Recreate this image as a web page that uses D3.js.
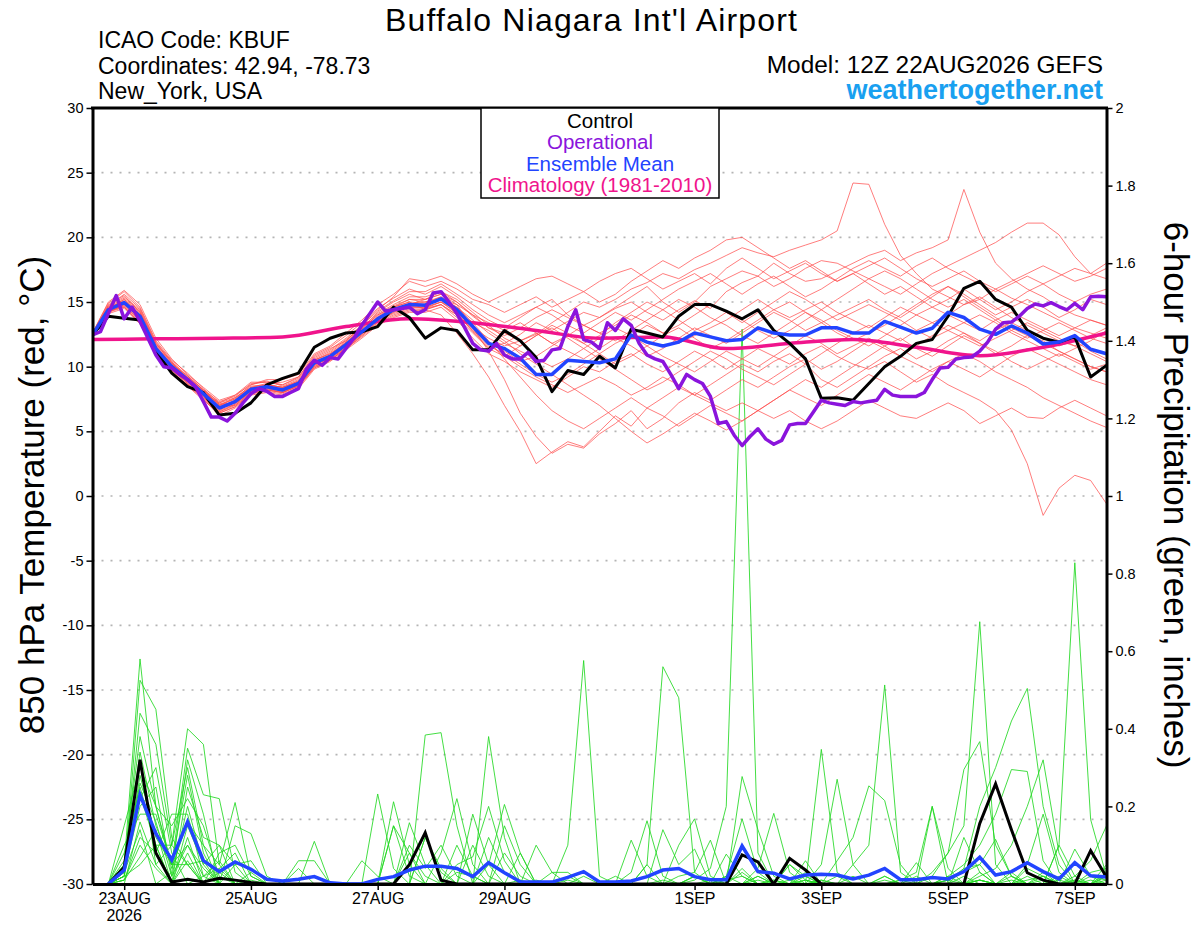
<!DOCTYPE html>
<html><head><meta charset="utf-8">
<script src="https://cdnjs.cloudflare.com/ajax/libs/d3/7.8.5/d3.min.js"></script>
<style>body{margin:0;background:#fff}svg{display:block}text{font-family:"Liberation Sans",Arial,Helvetica,sans-serif}</style>
</head><body><svg id="c" width="1200" height="927"></svg>
<script>
// ---------------- DATA ----------------
// forecast hours from 12Z 22AUG2026; temperature every 6 h (65 pts), operational every 3 h (129 pts)
const tempStepHours = 6, operStepHours = 3, precipStepHours = 6;
const tempTicks = [-30,-25,-20,-15,-10,-5,0,5,10,15,20,25,30];
const precipTicks = [0,0.2,0.4,0.6,0.8,1,1.2,1.4,1.6,1.8,2];
const dateTickHours = [12,60,108,156,228,276,324,372];
const dateTickLabels = ["23AUG","25AUG","27AUG","29AUG","1SEP","3SEP","5SEP","7SEP"];
const yearLabel = "2026";

const controlTemp = [12.45,13.9,13.75,13.6,11.2,9.5,8.45,8.0,6.26,6.4,7.2,8.6,9.1,9.5,11.5,12.2,12.6,
 12.7,13.1,14.6,13.8,12.2,13.0,12.8,11.3,11.3,12.8,12.0,10.7,8.07,9.7,9.4,10.8,
 9.9,12.9,12.6,12.3,13.9,14.8,14.8,14.3,13.7,14.4,12.8,11.8,10.6,7.55,7.6,7.4,
 8.7,10.0,10.8,11.8,12.1,13.9,16.06,16.6,15.2,14.6,12.8,12.2,11.9,12.3,9.2,10.1];

const meanTemp = [12.45,14.4,14.95,13.9,11.4,10.0,9.0,7.9,6.8,7.3,8.25,8.45,8.2,8.7,10.3,10.8,11.7,
 12.7,13.7,14.4,14.8,14.75,15.25,14.4,13.1,11.8,11.4,10.65,9.4,9.4,10.5,10.4,10.3,
 10.6,12.45,11.9,11.6,11.9,12.6,12.3,12.0,12.1,13.0,12.6,12.45,12.45,13.0,13.0,12.6,
 12.6,13.5,13.05,12.6,12.97,14.2,13.8,12.9,12.5,13.15,12.6,11.75,11.9,12.4,11.35,11.0];

const operationalTemp = [12.45,12.7,14.1,15.5,13.7,14.6,13.5,12.2,10.9,10.0,
 9.9,9.4,9.0,8.45,7.3,6.1,6.1,5.8,6.4,7.2,
 7.9,8.3,8.1,7.7,7.7,8.0,8.3,9.8,10.5,10.1,
 10.7,10.6,11.4,12.2,13.2,14.1,15.0,14.3,14.4,14.5,
 14.6,14.1,14.4,15.7,15.8,15.0,14.1,13.0,11.8,11.3,
 11.2,11.8,10.9,10.6,10.6,11.1,10.4,10.5,11.3,11.4,
 13.1,14.4,12.1,11.9,11.4,13.4,12.8,13.7,13.2,11.8,
 10.9,10.6,10.4,9.4,8.3,9.4,9.0,8.7,7.7,5.6,
 5.75,4.7,3.9,4.6,5.2,4.4,4.0,4.3,5.5,5.6,
 5.6,6.5,7.4,7.2,7.1,7.0,7.3,7.2,7.3,7.4,
 8.25,7.8,7.7,7.7,7.7,8.0,9.0,9.9,9.95,10.6,
 10.7,10.75,11.2,11.9,12.9,13.4,13.45,13.9,14.5,14.85,
 14.7,14.95,14.65,14.4,14.9,14.4,15.4,15.45,15.4];

const climHours = [0,24,48,72,96,120,144,168,192,216,240,264,288,312,336,360,384];
const climTemp = [12.1,12.15,12.2,12.3,13.1,13.7,13.4,12.8,12.2,12.3,11.4,11.8,12.1,11.5,10.85,11.5,12.6];

const tempMember01 = [12.5,14.8,15.5,14.2,11.8,10.3,9.2,8.1,7.0,7.5,8.6,8.9,8.5,9.0,10.6,11.2,12.1,
 13.0,14.2,15.0,15.6,15.2,15.8,15.0,13.9,13.0,12.6,12.0,12.5,13.4,14.2,15.0,14.6,
 15.2,16.0,16.5,17.2,16.8,17.5,18.0,18.6,19.2,18.8,18.5,19.0,19.4,19.8,20.5,24.2,
 24.1,21.0,18.6,17.2,16.0,15.4,14.8,15.2,16.0,15.3,14.8,14.2,13.6,13.0,12.6,12.2];
const tempMember02 = [12.4,14.5,15.2,14.0,11.2,9.8,8.7,7.6,6.5,7.0,8.0,8.2,8.0,8.5,10.0,10.5,11.4,
 12.4,13.5,14.2,14.6,14.5,15.0,14.1,12.7,11.5,11.8,12.5,13.4,12.8,13.5,14.2,13.8,
 14.5,15.0,14.2,13.6,14.4,15.1,14.5,15.8,16.5,17.0,18.0,17.2,16.6,16.8,17.4,18.0,
 18.6,19.0,18.2,18.8,19.2,19.8,23.7,20.4,18.0,16.8,16.0,15.4,14.6,14.0,13.6,13.2];
const tempMember03 = [12.6,14.9,15.8,14.6,12.0,10.5,9.5,8.3,7.2,7.8,8.8,8.8,8.6,9.2,10.9,11.5,12.4,
 13.4,14.5,15.3,16.0,15.6,16.2,15.4,14.4,13.6,13.0,13.8,14.6,15.2,14.0,13.2,13.8,
 14.6,15.4,16.2,15.0,14.2,15.0,16.2,16.8,17.4,17.0,16.2,16.8,17.6,18.2,18.0,17.4,
 16.8,16.2,15.6,16.4,17.2,17.8,18.4,19.0,19.6,20.4,21.1,21.1,20.2,18.5,17.2,18.0];
const tempMember04 = [12.3,14.2,14.8,13.6,11.0,9.6,8.6,7.5,6.2,6.8,7.8,8.0,7.8,8.3,9.8,10.4,11.3,
 12.2,13.2,13.8,14.2,14.2,14.6,13.6,12.2,11.0,10.4,9.6,9.0,8.4,9.2,10.0,9.6,
 10.4,11.0,10.2,9.6,10.4,11.2,10.6,9.8,10.6,11.4,10.8,10.2,11.0,11.6,10.8,10.2,
 9.8,10.4,9.6,8.8,9.4,8.6,8.0,7.4,6.6,5.1,2.5,-1.5,0.6,1.6,1.2,-0.6];
const tempMember05 = [12.5,14.6,15.0,13.8,11.6,10.2,9.3,8.2,7.1,7.2,8.0,8.6,8.4,8.8,10.4,10.9,11.9,
 12.9,14.0,14.6,15.0,14.4,14.0,12.6,11.0,9.2,7.0,5.0,2.5,3.4,4.2,3.8,5.0,
 6.2,5.4,6.8,7.6,8.4,7.8,8.6,9.4,10.2,9.6,10.4,11.0,10.2,9.0,8.4,9.2,
 10.0,10.8,11.4,10.6,11.2,12.0,12.6,11.8,11.0,11.6,12.4,12.0,11.2,10.6,10.0,9.6];
const tempMember06 = [12.4,14.3,14.6,13.4,11.0,9.7,8.8,7.7,6.6,7.4,8.4,8.2,8.0,8.6,10.2,10.6,11.5,
 12.5,13.6,14.3,14.8,15.2,15.6,14.8,13.0,11.2,9.0,6.4,4.6,3.3,4.0,3.7,4.8,
 5.6,6.6,5.2,6.0,7.2,8.0,7.4,8.2,9.0,8.4,9.2,10.0,10.6,9.8,10.4,11.2,
 12.0,11.4,10.8,11.6,12.4,13.2,12.6,12.0,12.8,13.4,12.8,12.2,11.6,12.0,11.2,10.6];
const tempMember07 = [12.5,14.7,15.4,14.4,11.8,10.4,9.0,8.0,7.2,7.6,8.4,8.7,8.8,9.2,10.8,11.4,12.0,
 13.2,14.4,15.4,16.8,16.6,17.0,16.4,15.6,15.0,15.6,16.2,16.8,17.0,16.4,15.8,16.6,
 17.2,17.6,16.8,16.0,16.6,17.2,16.4,17.6,18.4,17.6,16.8,17.4,18.0,17.2,16.6,17.2,
 16.4,15.6,16.2,15.4,14.6,15.2,16.0,15.2,14.4,15.0,15.8,16.4,17.0,17.6,17.2,16.8];
const tempMember08 = [12.4,14.4,14.7,13.6,11.3,9.9,8.9,7.9,6.9,7.0,8.0,8.3,8.1,8.6,10.1,10.7,11.6,
 12.6,13.6,14.2,14.8,15.0,15.4,14.2,12.8,11.6,11.0,10.2,9.4,8.8,9.4,10.2,11.0,
 11.8,12.4,13.2,12.6,11.8,12.4,13.0,13.6,14.4,15.2,14.4,13.8,14.4,15.0,14.2,13.6,
 13.0,13.8,14.6,14.0,13.4,14.0,14.8,15.4,14.6,13.8,13.2,12.6,12.0,11.6,12.4,13.0];
const tempMember09 = [12.5,14.5,15.1,14.1,11.5,10.1,9.1,8.0,6.9,7.4,8.3,8.5,8.3,8.8,10.5,11.0,11.8,
 12.8,13.8,14.5,14.9,14.8,15.2,14.6,13.4,12.0,10.6,9.2,7.8,6.6,5.8,5.2,6.0,
 6.8,7.6,6.8,6.2,5.4,6.2,7.0,6.4,5.8,6.6,7.4,8.2,7.6,7.0,7.8,8.6,
 9.4,8.8,8.2,9.0,9.8,10.4,9.8,9.2,10.0,10.8,11.4,10.8,10.2,9.6,9.0,8.6];
const tempMember10 = [12.3,14.1,14.5,13.3,11.0,9.5,8.5,7.4,6.4,6.9,7.9,8.1,7.9,8.4,9.9,10.5,11.4,
 12.3,13.3,13.9,14.3,14.4,14.8,14.0,13.0,12.2,11.6,12.0,12.6,11.8,11.2,10.6,11.4,
 12.2,11.6,10.8,11.4,12.2,13.0,12.4,11.8,12.6,13.4,14.2,13.6,12.8,13.4,14.0,14.6,
 15.2,14.4,13.8,14.6,15.4,16.2,15.6,14.8,14.0,14.6,15.2,14.6,13.8,14.4,15.2,14.8];
const tempMember11 = [12.6,15.0,15.9,14.8,12.2,10.6,9.4,8.4,7.4,7.8,8.6,9.0,9.0,9.4,11.0,11.6,12.6,
 13.6,14.8,15.6,16.6,16.2,16.6,16.0,15.2,14.8,14.2,14.8,15.4,14.6,15.2,15.8,15.0,
 15.6,16.6,17.4,18.2,17.6,18.4,19.0,19.8,20.0,19.2,18.4,17.6,18.2,17.4,16.6,17.2,
 17.8,18.4,17.6,16.8,16.2,16.8,17.4,16.6,16.0,16.6,17.2,17.8,17.2,16.6,17.0,17.6];
const tempMember12 = [12.4,14.4,14.9,13.9,11.3,9.9,9.0,7.8,6.7,7.2,8.2,8.4,8.2,8.7,10.2,10.8,11.7,
 12.7,13.8,14.6,15.2,15.0,15.2,14.8,14.0,13.4,12.8,13.4,12.6,11.8,12.4,13.2,12.6,
 13.2,14.0,13.4,12.6,13.2,14.0,14.8,14.2,13.4,14.2,15.0,15.8,15.2,14.4,13.6,14.2,
 14.8,14.2,13.6,12.8,12.2,12.8,13.4,14.0,13.4,12.6,12.0,11.4,10.8,11.4,12.0,12.8];
const tempMember13 = [12.5,14.2,14.8,13.8,11.4,10.0,9.2,8.2,7.0,7.2,8.2,8.6,8.4,8.8,10.4,10.8,11.6,
 12.6,13.7,14.4,14.7,14.6,15.0,14.2,13.4,12.8,12.0,11.0,10.2,9.4,8.6,7.8,7.0,
 6.0,5.0,4.1,4.8,5.6,6.4,5.8,5.1,5.8,6.6,7.4,8.2,9.0,8.4,9.2,10.0,
 10.8,11.6,12.2,11.4,10.8,11.6,12.4,11.8,11.2,10.4,9.8,10.4,11.0,10.4,9.8,10.2];
const tempMember14 = [12.4,14.6,15.3,14.3,11.7,10.3,9.1,8.0,7.0,7.6,8.5,8.6,8.4,8.9,10.5,11.1,12.0,
 13.0,14.1,14.8,15.4,15.4,15.8,15.2,14.2,13.2,12.2,11.6,12.4,13.2,12.6,11.8,12.4,
 13.4,14.2,15.0,14.4,13.6,12.8,13.4,14.2,13.6,12.8,12.2,12.8,13.6,14.4,15.2,16.0,
 16.8,17.4,16.8,16.0,15.2,14.6,15.2,14.4,13.6,12.8,12.2,12.8,13.4,12.8,12.2,11.8];
const tempMember15 = [12.3,14.3,14.9,13.7,11.1,9.7,8.7,7.6,6.5,7.1,8.1,8.3,8.0,8.5,10.0,10.6,11.5,
 12.5,13.5,14.1,14.5,14.6,15.0,14.4,13.2,11.8,10.8,10.0,9.2,8.6,8.0,8.6,9.2,
 8.6,7.8,8.4,9.2,8.6,7.8,7.2,6.6,7.2,6.6,6.0,6.6,5.8,5.2,5.8,6.6,
 7.4,6.8,6.2,6.0,6.6,7.2,6.6,5.6,6.2,6.8,6.1,6.0,6.8,7.4,6.8,6.2];
const tempMember16 = [12.5,14.4,15.0,14.0,11.5,10.1,9.0,7.9,6.8,7.3,8.3,8.5,8.2,8.7,10.3,10.9,11.8,
 12.8,13.9,14.6,15.0,14.9,15.4,14.6,13.6,12.6,11.8,11.2,10.6,10.0,10.6,11.4,12.2,
 13.0,12.4,11.6,10.8,10.2,9.6,10.4,11.2,10.6,10.0,10.8,11.6,12.4,11.8,11.0,11.6,
 12.2,11.6,10.8,10.2,9.6,10.4,11.0,10.4,9.6,9.0,8.4,7.6,7.0,6.4,5.8,5.3];
const tempMember17 = [12.6,14.7,15.6,14.5,11.9,10.4,9.3,8.2,7.3,7.7,8.7,8.8,8.6,9.1,10.7,11.3,12.2,
 13.2,14.3,15.1,15.8,15.8,16.4,15.6,14.8,14.0,13.4,14.0,14.6,14.0,13.2,12.6,13.4,
 14.2,13.6,14.4,15.2,16.0,16.6,17.2,16.4,15.6,16.4,17.0,16.2,15.4,16.0,16.8,17.6,
 18.2,17.6,17.0,17.8,18.4,17.6,17.0,16.4,15.8,16.4,17.0,16.4,15.6,15.0,15.6,16.0];
const tempMember18 = [12.4,14.3,14.7,13.5,11.2,9.8,8.8,7.7,6.6,7.1,8.1,8.4,8.1,8.6,10.1,10.7,11.6,
 12.6,13.6,14.3,14.7,14.5,14.8,13.8,12.6,11.4,10.8,11.6,12.4,13.0,12.2,11.4,10.6,
 9.8,9.0,8.2,8.8,9.6,10.4,11.2,10.6,9.8,9.2,8.6,9.4,10.2,11.0,11.8,12.6,
 13.2,12.6,12.0,12.8,13.4,12.8,12.2,11.6,12.2,12.8,13.4,12.8,12.2,11.6,11.0,10.4];
const tempMember19 = [12.5,14.5,15.2,14.2,11.6,10.2,9.1,8.1,7.1,7.5,8.4,8.6,8.4,8.9,10.5,11.0,11.9,
 12.9,14.0,14.7,15.2,15.2,15.6,15.0,14.0,13.0,12.4,13.0,13.8,14.4,13.8,13.2,12.6,
 12.0,12.8,13.6,14.4,15.2,14.6,13.8,13.2,12.4,11.8,12.6,13.4,14.2,13.6,12.8,12.2,
 11.6,12.4,13.2,14.0,14.6,14.0,13.4,12.8,13.6,14.2,13.6,13.0,12.4,13.0,13.6,13.2];
const tempMember20 = [12.3,14.2,14.6,13.4,10.9,9.5,8.6,7.5,6.4,6.9,7.9,8.2,8.0,8.5,9.9,10.5,11.4,
 12.4,13.4,14.0,14.4,14.4,14.8,14.0,12.8,11.8,11.2,10.4,10.8,11.6,12.4,11.8,11.0,
 10.2,10.8,11.6,12.4,13.0,12.2,11.4,12.0,12.8,13.6,14.4,15.0,14.2,13.4,12.6,12.0,
 12.6,13.2,14.0,14.8,15.6,16.2,15.4,14.6,13.8,13.0,12.4,11.8,11.2,10.6,10.0,9.6];

// 6-hour precipitation (inches), valid 18Z 22AUG onward (64 pts)
const controlPrecip = [0,.043,.32,.08,.005,.012,.005,.015, .01,.004,0,0,0,0,0,0,
 0,0,0,.05,.132,.01,0,0, 0,0,0,0,0,0,0,0, 0,0,0,0,0,0,0,0,
 .075,.057,0,.066,.036,0,0,0, 0,0,0,0,0,0,0,.156, .258,.14,.029,.01,0,0,.086,.018];
const meanPrecip = [0,.036,.23,.13,.062,.16,.06,.032, .057,.038,.012,.008,.012,.019,.003,0,
 0,.012,.019,.036,.046,.046,.04,.019, .055,.029,.006,.005,.005,.017,.032,.005,
 .005,.008,.019,.036,.04,.019,.011,.011, .098,.032,.028,.013,.023,.025,.023,.013,
 .023,.04,.011,.011,.017,.013,.032,.069, .023,.032,.055,.032,.013,.055,.021,.018];

const precipMember01 = [0,.05,.58,.20,.05,.10,.02,0, 0,0,0,0,0,0,0,0, 0,0,0,0,.12,.04,0,0, 0,0,0,0,0,0,.02,0,
 0,.113,.02,0,0,0,0,.01, .02,0,0,0,0,.01,0,0, 0,0,.01,.03,.2,.04,0,.01, 0,0,.02,0,0,.01,0,0];
const precipMember02 = [0,.02,.525,.45,.12,.05,0,0, 0,.01,0,0,0,0,0,0, 0,0,0,.1,.04,.1,.02,0, 0,0,0,.01,0,0,0,0,
 0,.03,.163,.02,0,0,.01,0, 0,.02,0,0,.01,0,0,0, 0,.02,0,0,.03,.08,.295,.367, .1,.02,0,0,.01,0,0,.02];
const precipMember03 = [0,.03,.44,.36,.1,.4,.36,.05, 0,0,0,0,.04,0,0,0, 0,0,0,0,0,0,.03,.02, 0,.15,.05,0,0,0,0,0,
 0,0,.05,0,0,.02,0,0, 0,0,.01,0,0,0,.02,0, 0,0,0,.055,0,0,.02,0, 0,.01,0,0,.02,0,0,0];
const precipMember04 = [0,.04,.34,.15,.05,.35,.23,.22, .03,0,0,0,0,0,0,0, 0,0,0,0,0,0,0,.1, .02,0,0,0,0,0,0,0,
 0,0,.05,.56,.48,.03,0,0, 0,0,0,.01,0,0,0,0, 0,0,0,0,0,.02,0,0, 0,.03,0,0,0,0,.01,0];
const precipMember05 = [0,.02,.23,.1,.1,.3,.1,.05, .21,.02,0,0,0,0,0,0, 0,.232,.04,0,0,0,0,0, 0,0,.01,0,0,0,0,0,
 0,0,0,0,.1,.168,.02,0, 0,.01,0,0,0,0,0,.02, 0,0,0,0,0,0,.12,.03, 0,0,0,.01,0,0,0,.03];
const precipMember06 = [0,.03,.2,.25,.02,.2,.05,0, .15,.13,.02,0,0,.11,0,0, 0,0,0,0,0,0,.1,.02, 0,0,0,0,0,0,0,0,
 0,0,0,.14,.05,.09,0,0, 0,0,0,0,.01,0,0,0, 0,0,0,0,.02,.08,.15,.676, .05,0,0,.02,0,0,0,0];
const precipMember07 = [0,.15,.3,.2,.15,.22,.15,.02, 0,0,0,0,0,0,0,0, 0,0,.212,.05,0,0,0,.18, .05,0,0,0,0,.01,0,0,
 0,0,0,0,.02,.03,.113,0, 0,0,0,0,.03,0,0,0, 0,0,0,0,0,.01,.03,.05, .115,.02,0,0,0,0,0,0];
const precipMember08 = [0,.08,.25,.1,0,.15,.05,.1, 0,0,0,0,.06,.06,0,0, 0,0,0,0,0,0,0,0, .12,.03,0,0,0,0,0,0,
 .02,0,0,0,0,0,0,.077, .02,0,0,0,0,.01,0,0, 0,.01,0,0,0,.02,.05,.1, .18,.295,.29,.06,0,0,.02,0];
const precipMember09 = [0,0,.16,.05,.1,.05,0,.08, .1,.02,0,0,0,0,0,0, 0,0,0,.158,.05,0,0,0, 0,.08,.02,0,0,0,0,0,
 0,0,0,0,0,.01,.04,.2, 1.43,.08,0,0,0,0,0,0, 0,0,.01,0,0,0,0,0, 0,0,.01,.02,0,0,0,0];
const precipMember10 = [0,.02,.28,.12,.05,.28,.08,0, 0,0,0,0,0,0,0,0, 0,0,.15,.08,0,0,0,0, 0,0,0,.1,.03,0,0,0,
 0,0,0,.01,0,0,0,0, .277,.14,.02,0,0,0,0,0, 0,0,0,0,0,.01,.04,.2, .3,.42,.504,.2,.05,0,0,0];
const precipMember11 = [0,.01,.12,.08,.18,.18,.02,.06, 0,0,0,0,0,0,0,0, 0,0,0,0,.384,.39,.15,0, 0,0,0,0,0,.02,0,0,
 0,0,0,0,0,0,0,.02, .168,.03,0,0,.02,0,0,0, 0,0,0,0,0,0,0,.02, .04,.1,.2,.32,.08,0,0,.01];
const precipMember12 = [0,.02,.32,.05,0,.12,0,0, .05,.06,0,0,0,0,0,0, 0,0,0,0,0,0,0,0, 0,0,0,0,0,.1,.576,.02,
 0,0,0,0,0,0,0,0, 0,.04,.182,.03,0,0,0,0, 0,0,0,.02,0,0,0,0, 0,0,.05,.18,.03,0,0,0];
const precipMember13 = [0,.1,.18,.18,.05,.05,.06,0, 0,0,0,0,0,0,0,0, 0,0,0,0,0,.08,.22,.05, 0,0,0,0,0,0,0,0,
 0,0,0,0,0,.02,0,0, 0,0,0,.05,.01,0,0,0, 0,0,0,0,0,.01,0,0, 0,0,0,0,.1,.02,0,0];
const precipMember14 = [0,.01,.07,.14,0,.25,.12,.1, .05,0,0,0,0,0,0,0, 0,0,0,0,0,0,0,0, .38,.12,0,0,0,0,0,0,
 0,0,0,0,0,.02,0,0, 0,0,0,0,.06,0,0,0, 0,0,0,0,0,0,0,.01, 0,.02,0,0,.1,.828,.166,.02];
const precipMember15 = [0,.04,.22,.3,.08,0,.02,.04, 0,0,0,0,0,0,0,0, 0,0,0,0,0,0,.05,.07, .2,.06,0,0,0,0,0,0,
 0,0,0,0,0,0,0,0, 0,.02,0,0,0,.347,.03,0, 0,0,0,0,0,0,0,.01, 0,0,0,0,0,.09,.02,.01];
const precipMember16 = [0,.03,.14,0,.03,.32,.18,0, 0,0,0,0,0,0,0,0, 0,0,0,0,0,0,0,0, .05,.205,.08,0,0,0,0,0,
 0,0,0,0,0,0,0,0, .03,0,0,0,0,.05,.27,.05, 0,0,0,0,0,0,0,0, 0,0,0,.03,0,.02,.06,.15];
const precipMember17 = [0,.01,.1,.04,0,.08,0,.04, .08,0,0,0,0,0,0,0, .06,.02,0,0,0,0,0,0, 0,0,0,0,0,0,0,0,
 0,0,0,0,0,0,0,.02, 0,0,.01,0,0,0,.06,.12, .253,.215,.05,0,0,0,0,.03, 0,0,0,0,0,0,0,0];
const precipMember18 = [0,.05,.26,.16,.02,.1,.04,0, 0,.03,0,0,0,0,0,0, 0,0,.15,.02,0,0,0,0, 0,0,.08,0,0,0,0,0,
 0,0,0,0,0,0,0,0, 0,0,0,0,0,0,0,.05, .1,.513,.03,0,0,0,0,0, 0,0,0,0,0,.01,0,.02];
const precipMember19 = [0,.02,.05,.1,0,.06,0,.03, 0,0,0,0,0,0,0,0, 0,0,0,.08,.02,0,0,0, 0,0,0,0,.03,.03,0,0,
 0,0,0,0,0,0,0,0, .04,0,0,.05,.02,0,0,0, 0,.02,0,0,0,0,.04,.05, 0,0,.04,.02,0,0,0,.05];
const precipMember20 = [0,.06,.38,.2,.04,.16,.1,0, 0,0,0,0,0,0,0,0, 0,0,0,0,.12,.03,0,0, 0,0,0,0,0,0,0,0,
 0,0,0,0,0,0,0,0, 0,0,0,0,0,0,0,0, 0,0,0,0,.2,0,0,.01, 0,0,0,0,0,0,.03,.04];

const tempMembers = [tempMember01,tempMember02,tempMember03,tempMember04,tempMember05,tempMember06,tempMember07,
 tempMember08,tempMember09,tempMember10,tempMember11,tempMember12,tempMember13,tempMember14,tempMember15,
 tempMember16,tempMember17,tempMember18,tempMember19,tempMember20];
const precipMembers = [precipMember01,precipMember02,precipMember03,precipMember04,precipMember05,precipMember06,
 precipMember07,precipMember08,precipMember09,precipMember10,precipMember11,precipMember12,precipMember13,
 precipMember14,precipMember15,precipMember16,precipMember17,precipMember18,precipMember19,precipMember20];

const titleText = "Buffalo Niagara Int'l Airport";
const infoLines = ["ICAO Code: KBUF","Coordinates: 42.94, -78.73","New_York, USA"];
const modelText = "Model: 12Z 22AUG2026 GEFS";
const siteText = "weathertogether.net";
const legendItems = [["Control","#000000"],["Operational","#8a14dc"],["Ensemble Mean","#2244ff"],["Climatology (1981-2010)","#f0148c"]];

// ---------------- DRAW ----------------
const svg = d3.select("#c");
const P = {left:92.5, right:1106.5, top:108, bottom:884};
const x = d3.scaleLinear().domain([0,384]).range([P.left,P.right]);
const yT = d3.scaleLinear().domain([-30,30]).range([P.bottom,P.top]);
const yP = d3.scaleLinear().domain([0,2]).range([P.bottom,P.top]);

svg.append("defs").append("clipPath").attr("id","clip").append("rect")
  .attr("x",P.left).attr("y",P.top-2).attr("width",P.right-P.left).attr("height",P.bottom-P.top+2);

// grid
svg.append("g").selectAll("line").data(tempTicks.filter(t=>t>-30&&t<30)).join("line")
  .attr("x1",P.left).attr("x2",P.right).attr("y1",d=>yT(d)).attr("y2",d=>yT(d))
  .attr("stroke","#b4b4b4").attr("stroke-width",1.6).attr("stroke-dasharray","2,7");

const plot = svg.append("g").attr("clip-path","url(#clip)");
const lineT = step => d3.line().x((d,i)=>x(i*step)).y(d=>yT(d));
const lineP = d3.line().x((d,i)=>x((i+1)*precipStepHours)).y(d=>yP(d));

plot.append("g").selectAll("path").data(precipMembers).join("path")
  .attr("d",lineP).attr("fill","none").attr("stroke","#22d822").attr("stroke-width",0.85);
plot.append("g").selectAll("path").data(tempMembers).join("path")
  .attr("d",lineT(tempStepHours)).attr("fill","none").attr("stroke","#ff4a4a").attr("stroke-width",0.8).attr("stroke-opacity",0.9);

plot.append("path").datum(climTemp)
  .attr("d",d3.line().x((d,i)=>x(climHours[i])).y(d=>yT(d)).curve(d3.curveMonotoneX))
  .attr("fill","none").attr("stroke","#f0148c").attr("stroke-width",3.5);

plot.append("path").datum(controlPrecip).attr("d",lineP).attr("fill","none").attr("stroke","#000").attr("stroke-width",3);
plot.append("path").datum(meanPrecip).attr("d",lineP).attr("fill","none").attr("stroke","#2244ff").attr("stroke-width",3.5);
plot.append("path").datum(controlTemp).attr("d",lineT(tempStepHours)).attr("fill","none").attr("stroke","#000").attr("stroke-width",3).attr("stroke-linejoin","round");
plot.append("path").datum(meanTemp).attr("d",lineT(tempStepHours)).attr("fill","none").attr("stroke","#2244ff").attr("stroke-width",3.5).attr("stroke-linejoin","round");
plot.append("path").datum(operationalTemp).attr("d",lineT(operStepHours)).attr("fill","none").attr("stroke","#8a14dc").attr("stroke-width",3.5).attr("stroke-linejoin","round");

// axes
const fmtT = d=>String(d);
const fmtP = d=>String(parseFloat(d.toFixed(1)));
const gL = svg.append("g").attr("transform",`translate(${P.left},0)`)
  .call(d3.axisLeft(yT).tickValues(tempTicks).tickSize(6).tickSizeOuter(0).tickFormat(fmtT));
const gR = svg.append("g").attr("transform",`translate(${P.right},0)`)
  .call(d3.axisRight(yP).tickValues(precipTicks).tickSize(6).tickSizeOuter(0).tickFormat(fmtP));
const gB = svg.append("g").attr("transform",`translate(0,${P.bottom})`)
  .call(d3.axisBottom(x).tickValues(dateTickHours).tickSize(6).tickSizeOuter(0).tickFormat((d,i)=>dateTickLabels[i]));
[gL,gR,gB].forEach(g=>{
  g.select(".domain").attr("stroke","#000").attr("stroke-width",3);
  g.selectAll(".tick line").attr("stroke","#000").attr("stroke-width",1.5);
  g.selectAll("text").attr("fill","#000").style("font-family",'"Liberation Sans",Arial,sans-serif');
});
gL.selectAll("text").attr("font-size",14.5);
gR.selectAll("text").attr("font-size",14.5);
gB.selectAll("text").attr("font-size",16);
svg.append("line").attr("x1",P.left-1.5).attr("x2",P.right+1.5).attr("y1",P.top).attr("y2",P.top)
  .attr("stroke","#000").attr("stroke-width",3);
svg.append("text").attr("x",x(dateTickHours[0])).attr("y",921).attr("text-anchor","middle")
  .attr("font-size",16).text(yearLabel);

// titles
svg.append("text").attr("x",591).attr("y",31).attr("text-anchor","middle").attr("font-size",32)
  .attr("textLength",412).attr("lengthAdjust","spacing").text(titleText);
infoLines.forEach((t,i)=>svg.append("text").attr("x",98).attr("y",48+i*25.5).attr("font-size",23).text(t));
svg.append("text").attr("x",1103).attr("y",73).attr("text-anchor","end").attr("font-size",24.4).text(modelText);
svg.append("text").attr("x",1103).attr("y",99).attr("text-anchor","end").attr("font-size",27)
  .attr("font-weight","bold").attr("fill","#19a0f0").text(siteText);

svg.append("text").attr("transform","translate(44,495) rotate(-90)").attr("text-anchor","middle")
  .attr("font-size",35).text("850 hPa Temperature (red, °C)");
svg.append("text").attr("transform","translate(1164,495) rotate(90)").attr("text-anchor","middle")
  .attr("font-size",35).text("6-hour Precipitation (green, inches)");

// legend
const lg = svg.append("g");
lg.append("rect").attr("x",481).attr("y",108).attr("width",238).attr("height",90)
  .attr("fill","#fff").attr("stroke","#000").attr("stroke-width",1.5);
lg.selectAll("text").data(legendItems).join("text")
  .attr("x",600).attr("y",(d,i)=>128+i*21.3).attr("text-anchor","middle").attr("font-size",20.5)
  .attr("fill",d=>d[1]).text(d=>d[0]);
</script></body></html>
